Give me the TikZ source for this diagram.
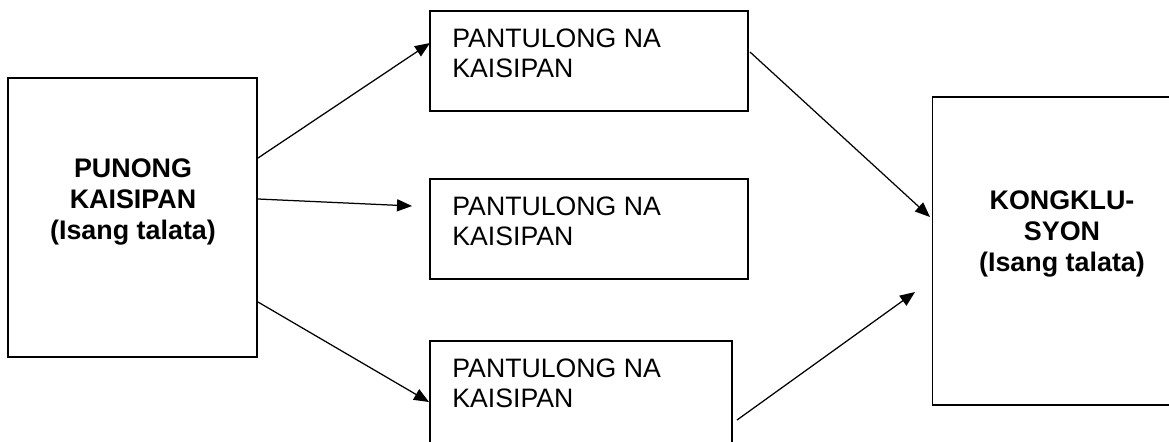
\documentclass[tikz,border=0pt]{standalone}
\usepackage{fontspec}
\setmainfont{Liberation Sans}
\usetikzlibrary{arrows.meta}
\tikzset{
  box/.style={rectangle,draw,line width=0.6pt,inner sep=0pt},
  txt/.style={inner sep=0pt,font=\fontsize{12.8}{14.4}\selectfont},
  btxt/.style={inner sep=0pt,align=center,anchor=north,font=\fontsize{12.9}{15}\selectfont\bfseries},
  arr/.style={line width=0.6pt,-{Triangle[length=7.2pt,width=5.8pt]}}
}
\begin{document}
\begin{tikzpicture}[x=0.48pt,y=-0.48pt]
    \useasboundingbox (0,0) rectangle (1169,441);
    % boxes
    \node[box,minimum width=119.5pt,minimum height=133.9pt] (punong) at (132.5,217.5) {};
    \node[box,minimum width=152.6pt,minimum height=48pt] (pt1) at (589,61) {};
    \node[box,minimum width=152.6pt,minimum height=48pt] (pt2) at (589,229) {};
    \node[box,minimum width=145pt,minimum height=49pt] (pt3) at (581,392) {};
    \node[box,minimum width=126pt,minimum height=147.8pt] (kong) at (1064,251) {};
    % texts
    \node[btxt] (punongtxt) at (133,158) {PUNONG\\KAISIPAN\\(Isang talata)};
    \node[btxt] (kongtxt) at (1062,190) {KONGKLU-\\SYON\\(Isang talata)};
    \node[txt,anchor=north west,align=left] (pt1txt) at (452,28) {PANTULONG NA\\KAISIPAN};
    \node[txt,anchor=north west,align=left] (pt2txt) at (452,196) {PANTULONG NA\\KAISIPAN};
    \node[txt,anchor=north west,align=left] (pt3txt) at (452,358) {PANTULONG NA\\KAISIPAN};
    % arrow ends
    \coordinate (a1)at(258,158);\coordinate (b1)at(430,43);
    \coordinate (a2)at(258,199);\coordinate (b2)at(412,206);
    \coordinate (a3)at(258,302);\coordinate (b3)at(429,402);
    \coordinate (a4)at(750,52);\coordinate (b4)at(930,217);
    \coordinate (a5)at(737,420);\coordinate (b5)at(915,292);
    \draw[arr] (a1) -- (b1);
    \draw[arr] (a2) -- (b2);
    \draw[arr] (a3) -- (b3);
    \draw[arr] (a4) -- (b4);
    \draw[arr] (a5) -- (b5);
\end{tikzpicture}
\end{document}
